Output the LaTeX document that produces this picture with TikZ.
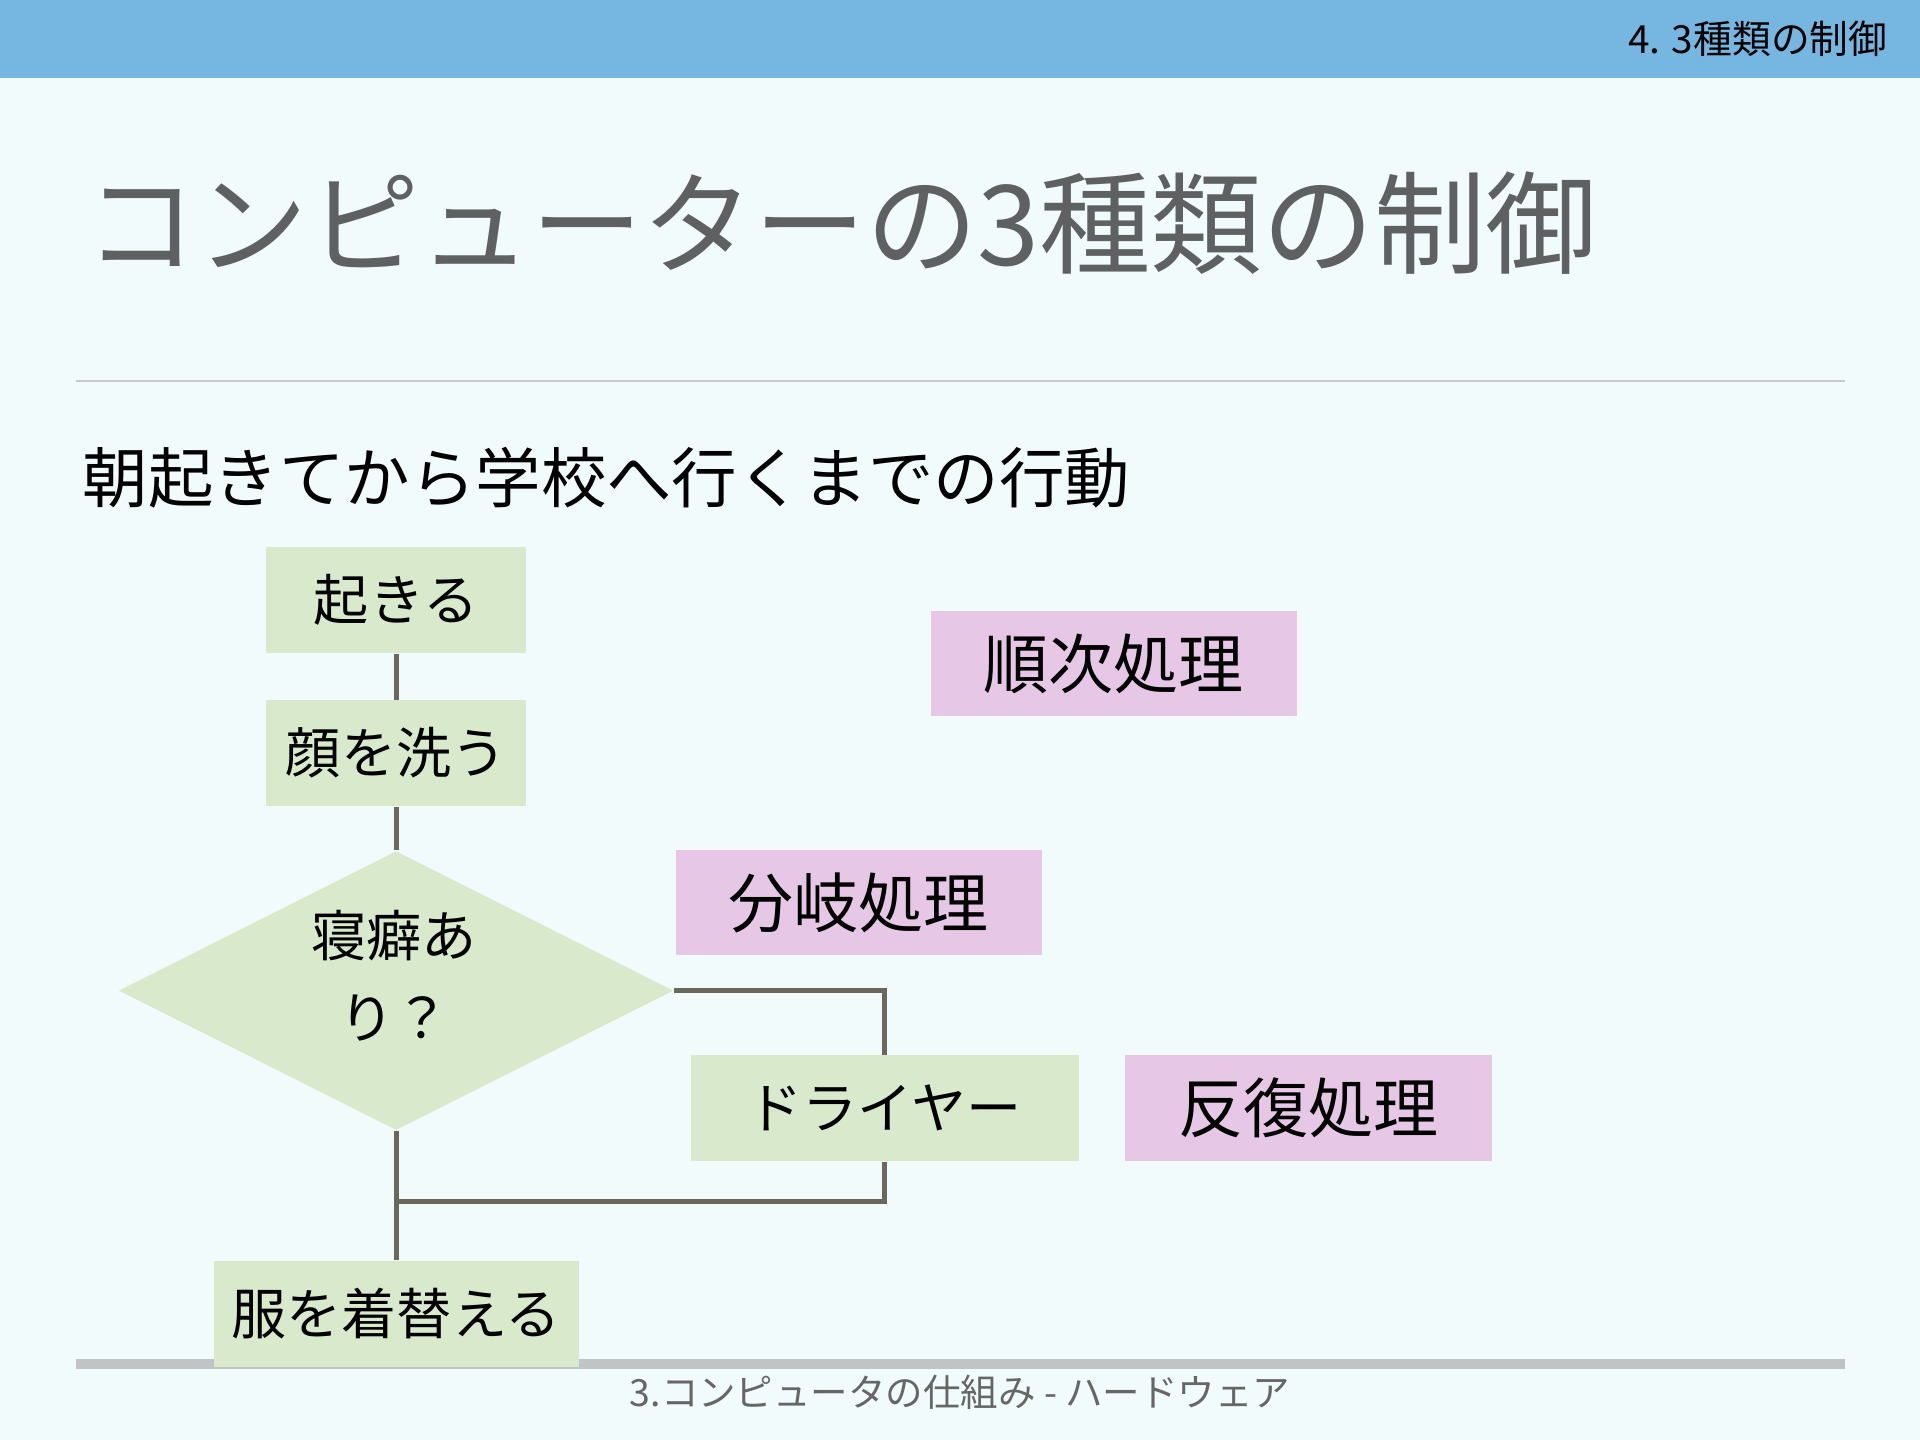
\documentclass[tikz,border=0pt]{standalone}
\usepackage{fontspec}
\setmainfont{Noto Sans CJK JP}
\usetikzlibrary{shapes.geometric}
\definecolor{bgc}{HTML}{F2FBFB}
\definecolor{bandc}{HTML}{76B7E1}
\definecolor{greenc}{HTML}{D9EACC}
\definecolor{purplec}{HTML}{E6C8E6}
\definecolor{linec}{HTML}{6B675B}
\definecolor{titlec}{HTML}{5E6062}
\definecolor{footc}{HTML}{666666}
\definecolor{barc}{HTML}{C0C4C4}
\definecolor{rulec}{HTML}{C8CACA}
\tikzset{
  gbox/.style={rectangle, fill=greenc, inner sep=0pt, minimum height=0.86cm, text=black, font=\fontsize{12.8}{15}\selectfont},
  pbox/.style={rectangle, fill=purplec, inner sep=0pt, minimum width=2.99cm, minimum height=0.86cm, text=black, font=\fontsize{15.1}{18}\selectfont},
  conn/.style={draw=linec, line width=1.15pt},
}
\begin{document}
\begin{tikzpicture}[x=0.01cm, y=-0.01cm]
\useasboundingbox (0,0) rectangle (1568,1176);
\fill[bgc] (0,0) rectangle (1568,1176);
\fill[bandc] (0,0) rectangle (1568,64);
\node[anchor=east, inner sep=0pt, text=black, font=\fontsize{9}{10}\selectfont] (hdr) at (1542,32) {4. 3種類の制御};
\node[anchor=west, inner sep=0pt, text=titlec, font=\fontsize{25.9}{30}\selectfont] (title) at (69,182) {コンピューターの3種類の制御};
\draw[rulec, line width=0.5pt] (62,311) -- (1507,311);
\node[anchor=west, inner sep=0pt, text=black, font=\fontsize{15.2}{18}\selectfont] (sub) at (67,390) {朝起きてから学校へ行くまでの行動};
% footer bar
\fill[barc] (62,1110) rectangle (1507,1118);
\node[inner sep=0pt, text=footc, font=\fontsize{8.7}{10}\selectfont] (foot) at (784,1137) {3.コンピュータの仕組み - ハードウェア};
% flowchart
\node[gbox, minimum width=2.12cm] (wake) at (323.5,490) {起きる};
\node[gbox, minimum width=2.12cm] (wash) at (323.5,615) {顔を洗う};
\node[diamond, fill=greenc, inner sep=0pt, aspect=1.99, minimum width=4.53cm, minimum height=2.28cm] (dia) at (323.5,809) {};
\node[align=center, inner sep=0pt, text=black, font=\fontsize{12.8}{19}\selectfont] (diat) at (322,797) {寝癖あ\\り？};
\node[gbox, minimum width=3.17cm] (dry) at (722.5,905) {ドライヤー};
\node[pbox] (seq) at (909.5,542) {順次処理};
\node[pbox] (br) at (701.5,737) {分岐処理};
\node[pbox] (rep) at (1068.5,905) {反復処理};
\coordinate (join) at (323.5,981);
\draw[conn] (wake.south) -- (wash.north);
\draw[conn] (wash.south) -- (dia.north);
\draw[conn] (dia.east) -| (dry.north);
\draw[conn] (dry.south) |- (join);
\node[gbox, minimum width=2.98cm] (dress) at (323.5,1073) {服を着替える};
\draw[conn] (dia.south) -- (dress.north);
\end{tikzpicture}
\end{document}
